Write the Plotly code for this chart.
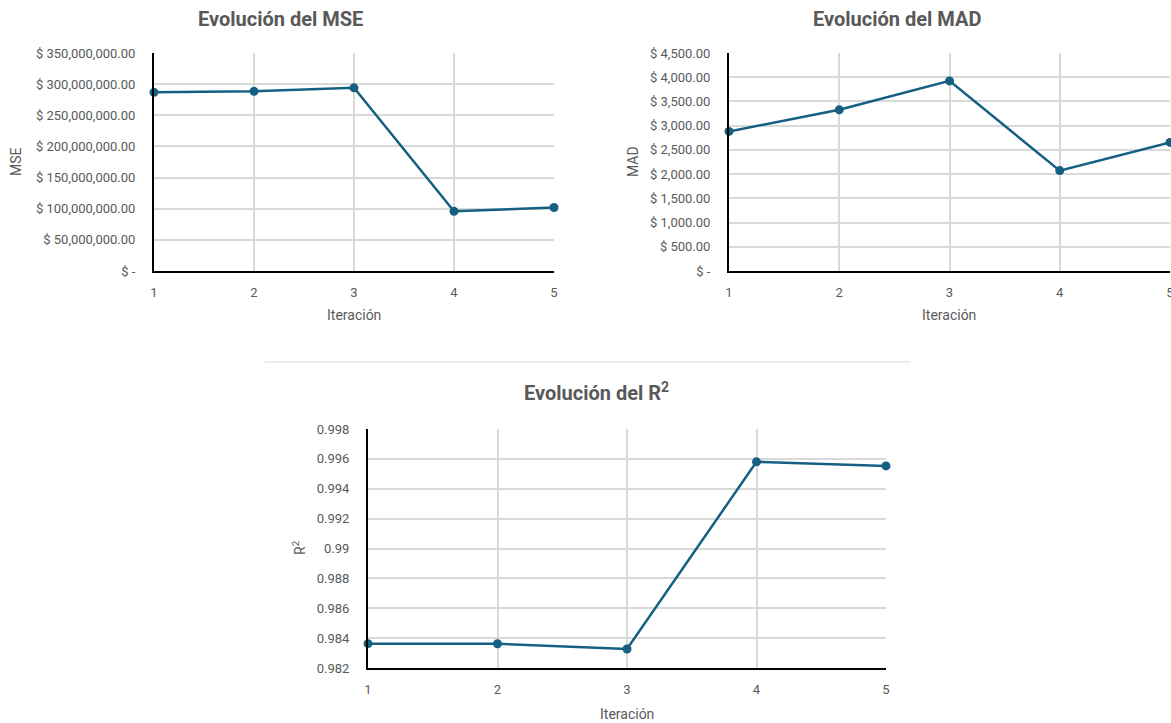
import plotly.graph_objects as go

# Iteraciones y métricas por iteración
iteraciones = [1, 2, 3, 4, 5]
mse = [286.8e6, 288.4e6, 294.1e6, 95.8e6, 102.0e6]
mad = [2881, 3327, 3924, 2072, 2654]
r2 = [0.98363, 0.98362, 0.98327, 0.99580, 0.99553]

# Marcas del eje Y
mse_ticks = [0, 50e6, 100e6, 150e6, 200e6, 250e6, 300e6, 350e6]
mse_labels = ["$ -", "$ 50,000,000.00", "$ 100,000,000.00", "$ 150,000,000.00",
              "$ 200,000,000.00", "$ 250,000,000.00", "$ 300,000,000.00", "$ 350,000,000.00"]
mad_ticks = [0, 500, 1000, 1500, 2000, 2500, 3000, 3500, 4000, 4500]
mad_labels = ["$ -", "$ 500.00", "$ 1,000.00", "$ 1,500.00", "$ 2,000.00", "$ 2,500.00",
              "$ 3,000.00", "$ 3,500.00", "$ 4,000.00", "$ 4,500.00"]
r2_ticks = [0.982, 0.984, 0.986, 0.988, 0.99, 0.992, 0.994, 0.996, 0.998]
r2_labels = ["0.982", "0.984", "0.986", "0.988", "0.99", "0.992", "0.994", "0.996", "0.998"]

W, H = 1171, 723
LINE = "#156082"
GRID = "#d9d9d9"
TXT = "#595959"
FONT = "Roboto"


def px_x(p):
    return p / W


def px_y(p):
    return 1 - p / H


fig = go.Figure()

panels = [
    # (y data, axis suffix, x px range, y px range, y range, ticks, labels)
    (mse, "", (154, 554), (53, 271), [0, 350e6], mse_ticks, mse_labels),
    (mad, "2", (729, 1170), (53, 271), [0, 4500], mad_ticks, mad_labels),
    (r2, "3", (368, 886), (429, 668), [0.982, 0.998], r2_ticks, r2_labels),
]

layout_axes = {}
for ydata, sfx, (x0, x1), (y0, y1), yr, tv, tt in panels:
    fig.add_trace(go.Scatter(
        x=iteraciones, y=ydata, xaxis="x" + sfx, yaxis="y" + sfx,
        mode="lines+markers", cliponaxis=False,
        line=dict(color=LINE, width=2.5),
        marker=dict(color=LINE, size=9),
        showlegend=False, hoverinfo="x+y",
    ))
    layout_axes["xaxis" + sfx] = dict(
        domain=[px_x(x0), px_x(x1)], range=[1, 5], anchor="y" + sfx,
        tickvals=iteraciones, ticktext=[str(i) for i in iteraciones],
        showgrid=True, gridcolor=GRID, gridwidth=1.5,
        showline=True, linecolor="black", linewidth=2,
        ticks="outside", ticklen=8, tickcolor="rgba(0,0,0,0)",
        tickfont=dict(family=FONT, size=13, color=TXT),
        ticklabeloverflow="allow",
        zeroline=False, fixedrange=True, automargin=False,
    )
    layout_axes["yaxis" + sfx] = dict(
        domain=[px_y(y1), px_y(y0)], range=yr, anchor="x" + sfx,
        tickvals=tv, ticktext=tt,
        showgrid=True, gridcolor=GRID, gridwidth=1.5,
        showline=True, linecolor="black", linewidth=2,
        ticks="outside", ticklen=14, tickcolor="rgba(0,0,0,0)",
        tickfont=dict(family=FONT, size=13, color=TXT),
        zeroline=False, fixedrange=True, automargin=False,
    )

title_font = dict(family=FONT, size=20, color=TXT, weight="bold")
axis_font = dict(family=FONT, size=14, color=TXT)

annotations = [
    dict(text="Evolución del MSE", x=px_x(280), y=px_y(19), font=title_font),
    dict(text="Evolución del MAD", x=px_x(897), y=px_y(19), font=title_font),
    dict(text="Evolución del R<sup>2</sup>", x=px_x(596), y=px_y(392), font=title_font),
    dict(text="Iteración", x=px_x(354), y=px_y(315), font=axis_font),
    dict(text="Iteración", x=px_x(949), y=px_y(315), font=axis_font),
    dict(text="Iteración", x=px_x(627), y=px_y(714), font=axis_font),
    dict(text="MSE", x=px_x(16), y=px_y(162), font=axis_font, textangle=-90),
    dict(text="MAD", x=px_x(633), y=px_y(162), font=axis_font, textangle=-90),
    dict(text="R<sup>2</sup>", x=px_x(299), y=px_y(548), font=axis_font, textangle=-90),
]
for a in annotations:
    a.update(xref="paper", yref="paper", showarrow=False, xanchor="center", yanchor="middle")

fig.update_layout(
    width=W, height=H,
    margin=dict(l=0, r=0, t=0, b=0, autoexpand=False),
    paper_bgcolor="white", plot_bgcolor="white",
    annotations=annotations,
    shapes=[dict(type="line", xref="paper", yref="paper",
                 x0=px_x(265), x1=px_x(910), y0=px_y(362), y1=px_y(362),
                 line=dict(color=GRID, width=1))],
    **layout_axes,
)

# Página sin márgenes para que la figura ocupe toda la ventana
fig.write_html("out.html", post_script="document.body.style.margin='0';")
